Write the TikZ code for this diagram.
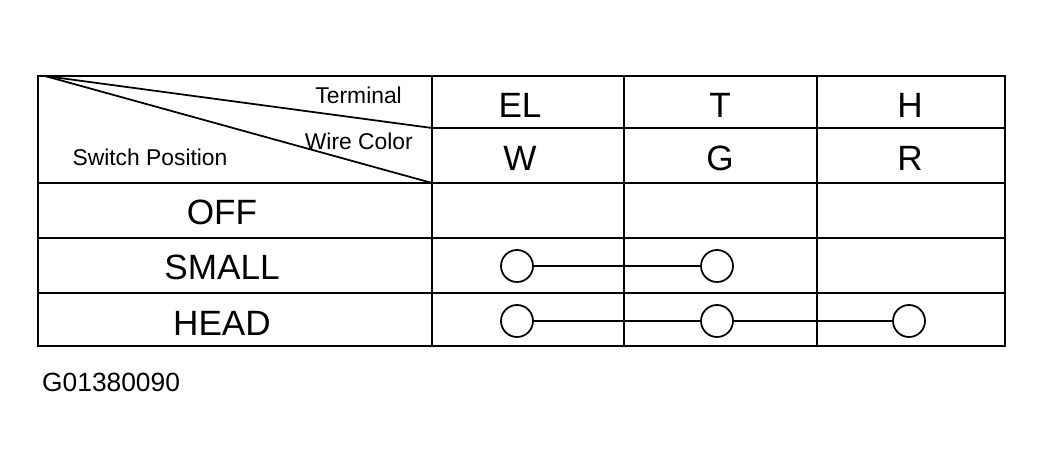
\documentclass[tikz,border=0pt]{standalone}
\usepackage{fontspec}
\setmainfont{Liberation Sans}
\tikzset{
  grid line/.style={line width=1pt},
  contact/.style={circle, draw, line width=1pt, minimum size=32\pxunit, inner sep=0pt},
  big/.style={font=\fontsize{20}{22}\selectfont},
  small/.style={font=\fontsize{13}{15}\selectfont}
}
\newlength{\pxunit}
\setlength{\pxunit}{0.02cm}
\begin{document}
\begin{tikzpicture}[x=0.02cm, y=-0.02cm]
    \useasboundingbox (0,0) rectangle (1044,466);
    % table frame
    \draw[grid line] (38,76) rectangle (1005,346);
    \foreach \y in {183,238,293}
      \draw[grid line] (38,\y) -- (1005,\y);
    \draw[grid line] (432,128) -- (1005,128);
    \foreach \x in {432,624,817}
      \draw[grid line] (\x,76) -- (\x,346);
    % header diagonals
    \draw[grid line] (45,76) -- (432,128);
    \draw[grid line] (45,76) -- (432,183);
    \node[small, anchor=east] at (408,95) {Terminal};
    \node[small, anchor=east] at (419,141) {Wire Color};
    \node[small] at (150,157) {Switch Position};
    % column heads
    \node[big] at (520,105) {EL};
    \node[big] at (520,158) {W};
    \node[big] at (720,105) {T};
    \node[big] at (720,158) {G};
    \node[big] at (910,105) {H};
    \node[big] at (910,158) {R};
    % rows
    \node[big] at (222,212) {OFF};
    \node[big] at (222,267) {SMALL};
    \node[big] at (222,323) {HEAD};
    % contacts
    \node[contact] (smallEL) at (517,266) {};
    \node[contact] (smallT) at (717,266) {};
    \draw[grid line] (smallEL) -- (smallT);
    \node[contact] (headEL) at (517,321) {};
    \node[contact] (headT) at (717,321) {};
    \node[contact] (headH) at (909,321) {};
    \draw[grid line] (headEL) -- (headT);
    \draw[grid line] (headT) -- (headH);
    \node[font=\fontsize{15}{17}\selectfont, anchor=west] at (36,382) {G01380090};
\end{tikzpicture}
\end{document}
